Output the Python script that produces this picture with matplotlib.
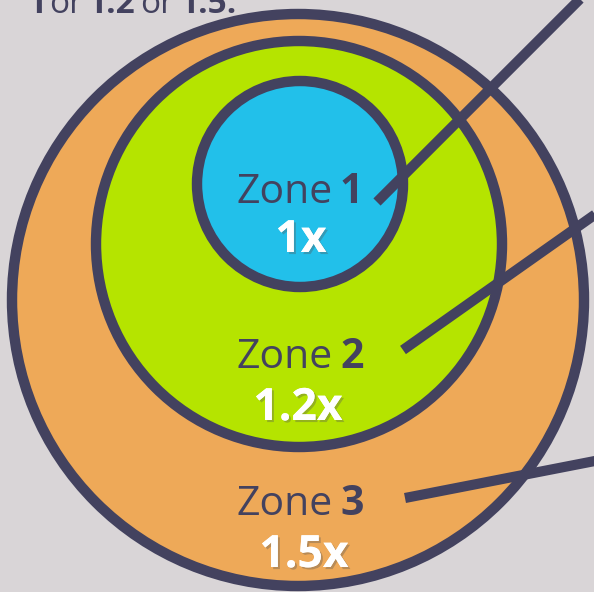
import matplotlib.pyplot as plt
from matplotlib.patches import Circle
import matplotlib.patheffects as pe

# data
zonas = ['1', '2', '3']
multiplicadores = ['1x', '1.2x', '1.5x']
cores = ['#22c0ea', '#b5e400', '#eea958']
texto_topo = ['1', 'or', '1.2', 'or', '1.5.']

# layout (pixels, y para baixo)
circulos = [(300, 184, 103), (299, 244, 203), (298, 300, 286)]
linhas = [((377, 202), (600, -21)), ((403, 350), (600, 211)), ((405, 498), (600, 460))]
y_zona = [203, 368, 515]
y_mult = [252, 420, 567]
x_mult = [301, 298, 304]
x_topo = [28, 49, 88, 140, 180]

fundo = '#d9d5d7'
escuro = '#43425f'

fig = plt.figure(figsize=(5.94, 5.92), dpi=100)
fig.patch.set_facecolor(fundo)
ax = fig.add_axes([0, 0, 1, 1])
ax.set_xlim(0, 594)
ax.set_ylim(592, 0)
ax.set_aspect('equal')
ax.axis('off')

# circulos, do maior para o menor
for (cx, cy, r), cor, z in zip(circulos[::-1], cores[::-1], [1, 2, 3]):
    ax.add_patch(Circle((cx, cy), r, facecolor=cor, edgecolor=escuro, lw=7.5, zorder=z))

# linhas de chamada
for (p0, p1) in linhas:
    ax.plot([p0[0], p1[0]], [p0[1], p1[1]], color=escuro, lw=7.3,
            solid_capstyle='butt', zorder=5)

sombra = [pe.withSimplePatchShadow(offset=(1.5, -1.5), shadow_rgbFace='#555555', alpha=0.35),
          pe.Normal()]

for i in range(3):
    ax.text(333, y_zona[i], 'Zone', ha='right', va='baseline', fontsize=29.5,
            family='Open Sans', color=escuro, zorder=6)
    ax.text(340, y_zona[i], zonas[i], ha='left', va='baseline', fontsize=29.5,
            family='Open Sans', fontweight='bold', color=escuro, zorder=6)
    ax.text(x_mult[i], y_mult[i], multiplicadores[i], ha='center', va='baseline',
            fontsize=32, family='Open Sans', fontweight='bold', color='white',
            path_effects=sombra, zorder=6)

# texto cortado no topo
for t, x in zip(texto_topo, x_topo):
    peso = 'normal' if t == 'or' else 'bold'
    ax.text(x, 13, t, ha='left', va='baseline', fontsize=24, family='Open Sans',
            fontweight=peso, color=escuro, zorder=6)

fig.savefig('out.png', dpi=100, facecolor=fundo)
